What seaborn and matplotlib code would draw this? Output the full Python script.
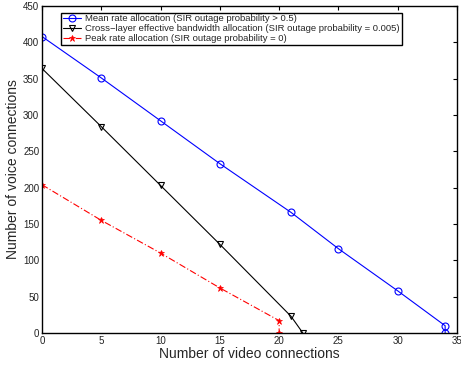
import matplotlib
matplotlib.use("Agg")
import matplotlib.pyplot as plt
import seaborn as sns
import pandas as pd

mean_x = [0, 5, 10, 15, 21, 25, 30, 34, 34]
mean_y = [408, 351, 292, 233, 166, 116, 58, 10, 0]
cross_x = [0, 5, 10, 15, 21, 22]
cross_y = [364, 284, 203, 122, 23, 0]
peak_x = [0, 5, 10, 15, 20, 20]
peak_y = [204, 155, 110, 62, 17, 0]

labels = ["Mean rate allocation (SIR outage probability > 0.5)",
          "Cross\u2212layer effective bandwidth allocation (SIR outage probability = 0.005)",
          "Peak rate allocation (SIR outage probability = 0)"]

sns.set_style("white")
plt.rcParams['font.family'] = ['Liberation Sans', 'DejaVu Sans']

fig = plt.figure(figsize=(4.61, 3.67), dpi=100)
ax = fig.add_axes([42/461, 34/367, 415/461, 327/367])

df1 = pd.DataFrame({"x": mean_x, "y": mean_y})
df2 = pd.DataFrame({"x": cross_x, "y": cross_y})
df3 = pd.DataFrame({"x": peak_x, "y": peak_y})

sns.lineplot(data=df1, x="x", y="y", ax=ax, estimator=None, sort=False,
             color="blue", lw=0.8, marker="o", markersize=5,
             markerfacecolor="none", markeredgecolor="blue", markeredgewidth=0.8,
             label=labels[0])
sns.lineplot(data=df2, x="x", y="y", ax=ax, estimator=None, sort=False,
             color="black", lw=0.8, marker="v", markersize=5,
             markerfacecolor="none", markeredgecolor="black", markeredgewidth=0.8,
             label=labels[1])
sns.lineplot(data=df3, x="x", y="y", ax=ax, estimator=None, sort=False,
             color="red", lw=0.8, linestyle=(0, (6, 2, 1, 2)), marker="*", markersize=5,
             markerfacecolor="red", markeredgecolor="red", markeredgewidth=0.5,
             label=labels[2])

ax.set_xlim(0, 35)
ax.set_ylim(0, 450)
ax.set_xticks(range(0, 36, 5))
ax.set_yticks(range(0, 451, 50))
ax.tick_params(direction="in", top=True, right=True, length=3, labelsize=7, pad=2,
               colors="black", labelcolor="#222222")
for s in ax.spines.values():
    s.set_color("black")
    s.set_linewidth(1.0)
ax.set_xlabel("Number of video connections", fontsize=10, labelpad=1)
ax.set_ylabel("Number of voice connections", fontsize=10, labelpad=2)

leg = ax.legend(loc="upper left", bbox_to_anchor=(0.045, 0.98), fontsize=6.8,
                frameon=True, fancybox=False, edgecolor="black", framealpha=1,
                handlelength=1.9, handletextpad=0.5, borderpad=0.2, labelspacing=0.1,
                borderaxespad=0)
leg.get_frame().set_linewidth(1.0)

fig.savefig("out.png", dpi=100)
